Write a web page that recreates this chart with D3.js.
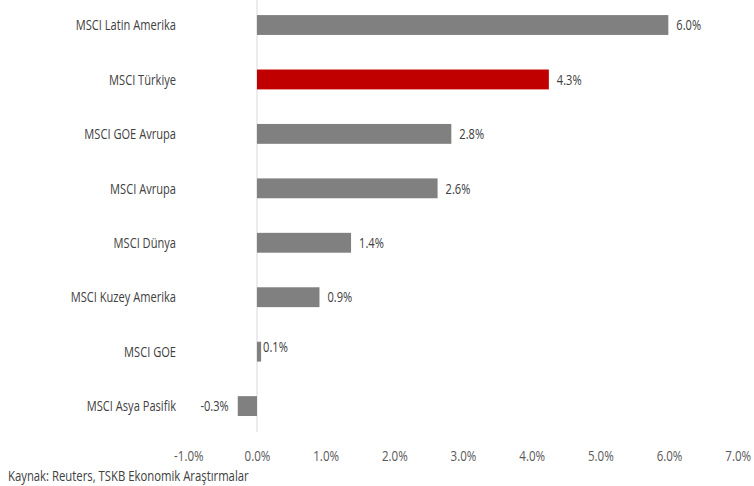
<!DOCTYPE html>
<html><head>
<meta charset="UTF-8">
<title>MSCI Endeksleri Getiri</title>
<style>
  body { margin: 0; padding: 0; background: #fff; }
  svg text { font-family: "Open Sans", sans-serif; }
</style>
</head>
<body>
<div id="chart"></div>
<script src="https://d3js.org/d3.v7.min.js"></script>
<script>
  const categories = ["MSCI Latin Amerika", "MSCI Türkiye", "MSCI GOE Avrupa", "MSCI Avrupa",
                      "MSCI Dünya", "MSCI Kuzey Amerika", "MSCI GOE", "MSCI Asya Pasifik"];
  const values = [5.99, 4.25, 2.83, 2.63, 1.37, 0.91, 0.06, -0.28];
  const tickValues = [-1, 0, 1, 2, 3, 4, 5, 6, 7];
  const highlight = "MSCI Türkiye";
  const source = "Kaynak: Reuters, TSKB Ekonomik Araştırmalar";

  const width = 754, height = 486;
  const squeeze = 0.74; // narrow the text horizontally, like the original condensed font

  const svg = d3.select("#chart").append("svg")
    .attr("width", width)
    .attr("height", height);

  const x = d3.scaleLinear().domain([-1, 7]).range([188.3, 737.7]);
  const y = d3.scaleBand().domain(categories).range([-2.2, 433.3]).paddingInner(0.635).paddingOuter(0.3175);

  // zero line
  svg.append("line")
    .attr("x1", x(0)).attr("x2", x(0))
    .attr("y1", 0).attr("y2", 432)
    .attr("stroke", "#d9d9d9").attr("stroke-width", 1);

  // bars
  svg.selectAll(".bar")
    .data(categories)
    .enter().append("rect")
    .attr("class", "bar")
    .attr("x", (d, i) => x(Math.min(0, values[i])))
    .attr("y", d => y(d))
    .attr("width", (d, i) => Math.abs(x(values[i]) - x(0)))
    .attr("height", y.bandwidth())
    .attr("fill", d => d === highlight ? "#c00000" : "#808080");

  // value labels
  svg.selectAll(".val")
    .data(categories)
    .enter().append("text")
    .attr("class", "val")
    .attr("transform", (d, i) => {
      const v = values[i];
      const tx = v < 0 ? x(v) - 9 : x(v) + (v < 0.5 ? 2 : 8);
      const ty = y(d) + y.bandwidth() / 2 + (v > 0 && v < 0.5 ? -5 : 0);
      return `translate(${tx},${ty}) scale(${squeeze},1)`;
    })
    .attr("dy", "0.35em")
    .attr("text-anchor", (d, i) => values[i] < 0 ? "end" : "start")
    .attr("font-size", 15)
    .attr("fill", "#404040")
    .text((d, i) => values[i].toFixed(1) + "%");

  // category labels
  svg.selectAll(".cat")
    .data(categories)
    .enter().append("text")
    .attr("class", "cat")
    .attr("transform", d => `translate(176,${y(d) + y.bandwidth() / 2}) scale(${squeeze},1)`)
    .attr("dy", "0.35em")
    .attr("text-anchor", "end")
    .attr("font-size", 15)
    .attr("fill", "#404040")
    .text(d => d);

  // x axis
  const xAxis = d3.axisBottom(x)
    .tickValues(tickValues)
    .tickSize(0)
    .tickPadding(0)
    .tickFormat(d => d.toFixed(1) + "%");

  const gx = svg.append("g")
    .attr("transform", "translate(0,450)")
    .call(xAxis);
  gx.select(".domain").remove();
  gx.selectAll("text")
    .attr("font-size", 15)
    .attr("transform", "scale(0.77,1)")
    .attr("fill", "#595959");
  gx.attr("font-family", null);

  svg.append("text")
    .attr("transform", "translate(8,481) scale(0.755,1)")
    .attr("font-size", 15)
    .attr("fill", "#404040")
    .text(source);
</script>
</body></html>
